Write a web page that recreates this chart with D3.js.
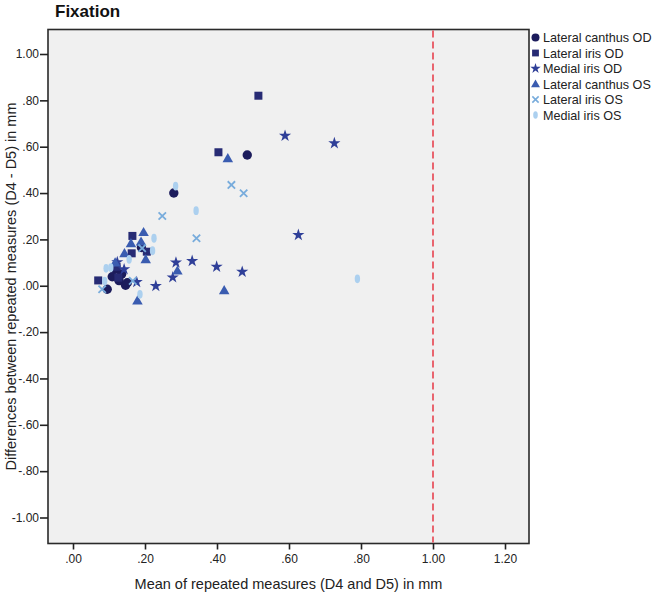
<!DOCTYPE html>
<html><head><meta charset="utf-8">
<script src="https://cdn.jsdelivr.net/npm/d3@7"></script>
<style>body{margin:0;background:#fff;}svg{display:block;font-family:"Liberation Sans",Arial,sans-serif;}</style>
</head><body><svg id="c" width="660" height="597"></svg>
<script>
const seriesNames = ["Lateral canthus OD","Lateral iris OD","Medial iris OD","Lateral canthus OS","Lateral iris OS","Medial iris OS"];
const seriesColors = ["#1c1c5c","#272b74","#2f3f98","#3a5cb0","#78acdc","#acd0ef"];
const seriesShapes = ["circle","square","star","triangle","cross","ellipse"];

const lcOD_x = [0.484,0.280,0.190,0.119,0.109,0.128,0.146,0.151,0.095,0.135];
const lcOD_y = [0.564,0.400,0.165,0.071,0.039,0.022,0.002,0.013,-0.015,0.050];
const liOD_x = [0.515,0.404,0.165,0.205,0.163,0.121,0.126,0.070];
const liOD_y = [0.820,0.576,0.215,0.147,0.140,0.082,0.035,0.023];
const miOD_x = [0.589,0.726,0.626,0.470,0.399,0.331,0.286,0.277,0.230,0.177,0.123,0.142];
const miOD_y = [0.647,0.615,0.219,0.060,0.082,0.107,0.100,0.036,-0.001,0.016,0.102,0.071];
const lcOS_x = [0.430,0.420,0.290,0.196,0.161,0.189,0.202,0.143,0.179,0.117];
const lcOS_y = [0.550,-0.020,0.065,0.231,0.183,0.190,0.114,0.140,-0.064,0.100];
const liOS_x = [0.440,0.474,0.248,0.343,0.192,0.166,0.081];
const liOS_y = [0.435,0.399,0.301,0.205,0.162,0.021,-0.015];
const miOS_x = [0.790,0.285,0.342,0.225,0.221,0.156,0.186,0.092,0.105,0.088];
const miOS_y = [0.030,0.430,0.324,0.205,0.151,0.114,-0.037,0.075,0.078,0.020];

const seriesX = [lcOD_x,liOD_x,miOD_x,lcOS_x,liOS_x,miOS_x];
const seriesY = [lcOD_y,liOD_y,miOD_y,lcOS_y,liOS_y,miOS_y];

const xTicks = [0,0.2,0.4,0.6,0.8,1.0,1.2];
const yTicks = [1.0,0.8,0.6,0.4,0.2,0,-0.2,-0.4,-0.6,-0.8,-1.0];
const refLineX = 1.0;
const fmt = v => { const s = Math.abs(v).toFixed(2); return (v<0?"-":"") + (Math.abs(v)<1 ? s.slice(1) : s); };

const svg = d3.select("#c");
const x = d3.scaleLinear().domain([0,1.2]).range([73,505]);
const y = d3.scaleLinear().domain([-1,1]).range([517.5,54]);
const X0 = 48, X1 = 529, Y0 = 29.5, Y1 = 543.5;

svg.append("text").attr("x",55).attr("y",17).attr("font-size",17).attr("font-weight","bold").attr("fill","#111").text("Fixation");

svg.append("rect").attr("x",X0).attr("y",Y0).attr("width",X1-X0).attr("height",Y1-Y0)
  .attr("fill","#f0f0f0").attr("stroke","#2a2a2a").attr("stroke-width",1.6);

const xa = svg.append("g").attr("transform",`translate(0,${Y1})`)
  .call(d3.axisBottom(x).tickValues(xTicks).tickFormat(fmt).tickSize(6).tickPadding(5));
xa.select(".domain").remove();
xa.selectAll("line").attr("stroke","#222").attr("stroke-width",1.6);
xa.selectAll("text").attr("font-size",12).attr("fill","#222").attr("font-family","Liberation Sans, Arial, sans-serif");

const ya = svg.append("g").attr("transform",`translate(${X0},0)`)
  .call(d3.axisLeft(y).tickValues(yTicks).tickFormat(fmt).tickSize(8).tickPadding(1));
ya.select(".domain").remove();
ya.selectAll("line").attr("stroke","#222").attr("stroke-width",1.6);
ya.selectAll("text").attr("font-size",12).attr("fill","#222").attr("font-family","Liberation Sans, Arial, sans-serif");

svg.append("text").attr("x",(X0+X1)/2).attr("y",589).attr("text-anchor","middle").attr("font-size",14.5).attr("fill","#222")
  .text("Mean of repeated measures (D4 and D5) in mm");
svg.append("text").attr("transform",`translate(16,${(Y0+Y1)/2}) rotate(-90)`).attr("text-anchor","middle").attr("font-size",14.5).attr("fill","#222")
  .text("Differences between repeated measures (D4 - D5) in mm");

svg.append("line").attr("x1",x(refLineX)).attr("x2",x(refLineX)).attr("y1",Y0+1).attr("y2",Y1-1)
  .attr("stroke","#e8434f").attr("stroke-width",1.6).attr("stroke-dasharray","7,4");

function drawMarker(g, shape, color, cx, cy, s){
  if(shape==="circle") g.append("circle").attr("cx",cx).attr("cy",cy).attr("r",4.7*s).attr("fill",color);
  else if(shape==="square") g.append("rect").attr("x",cx-4*s).attr("y",cy-4*s).attr("width",8*s).attr("height",8*s).attr("fill",color);
  else if(shape==="star") g.append("path").attr("transform",`translate(${cx},${cy})`).attr("d",d3.symbol(d3.symbolStar, 46*s*s)()).attr("fill",color);
  else if(shape==="triangle") g.append("path").attr("transform",`translate(${cx},${cy+0.8*s})`).attr("d",d3.symbol(d3.symbolTriangle, 48*s*s)()).attr("fill",color);
  else if(shape==="cross") { const r=3.7*s; g.append("path").attr("d",`M${cx-r},${cy-r}L${cx+r},${cy+r}M${cx-r},${cy+r}L${cx+r},${cy-r}`).attr("stroke",color).attr("stroke-width",1.8*s).attr("fill","none"); }
  else if(shape==="ellipse") g.append("ellipse").attr("cx",cx).attr("cy",cy).attr("rx",2.7*s).attr("ry",4.4*s).attr("fill",color);
}

const pts = svg.append("g");
seriesNames.forEach((n,i)=>{
  seriesX[i].forEach((xv,j)=> drawMarker(pts, seriesShapes[i], seriesColors[i], x(xv), y(seriesY[i][j]), 1));
});

const lg = svg.append("g");
seriesNames.forEach((n,i)=>{
  const yy = 37.5 + i*15.5;
  drawMarker(lg, seriesShapes[i], seriesColors[i], 535.5, yy, 0.85);
  lg.append("text").attr("x",543).attr("y",yy+4.5).attr("font-size",12.6).attr("fill","#222").text(n);
});
</script></body></html>
